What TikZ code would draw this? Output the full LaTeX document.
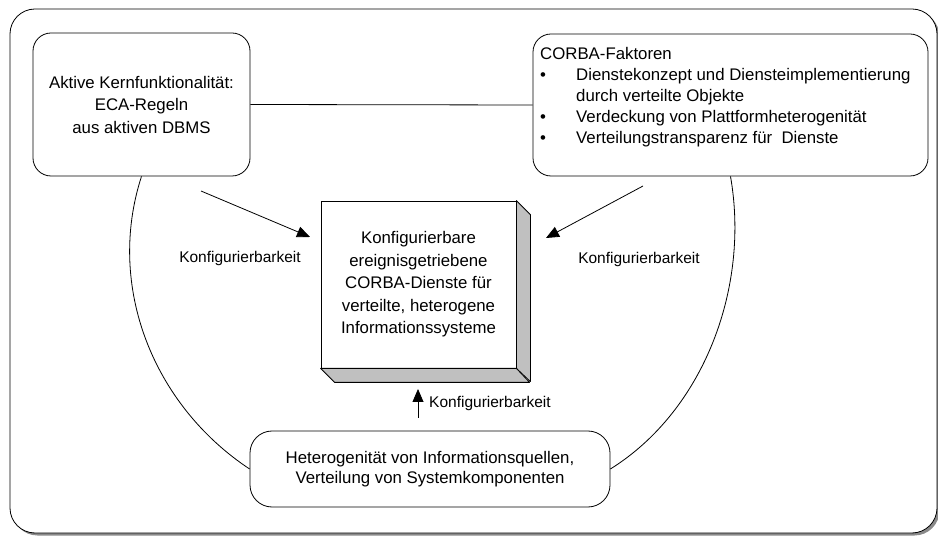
\documentclass[tikz,border=0pt]{standalone}
\usepackage{fontspec}
\setmainfont{Liberation Sans}
\usetikzlibrary{arrows.meta}
\newcommand{\mainfs}{\fontsize{16.8}{22.5}\selectfont}
\newcommand{\rfs}{\fontsize{16.8}{21}\selectfont}
\newcommand{\bfs}{\fontsize{16.8}{20.5}\selectfont}
\newcommand{\lblfs}{\fontsize{15.5}{18}\selectfont}
\definecolor{faceg}{HTML}{C0C0C0}
\definecolor{shadowg}{HTML}{8A8A8A}
\begin{document}
\begin{tikzpicture}[x=1pt,y=1pt,
  box/.style={draw, line width=0.8pt, rounded corners=18pt, fill=white, align=center, font=\mainfs, inner sep=0pt},
  lbl/.style={font=\lblfs, inner sep=0pt},
  conn/.style={line width=0.8pt},
  arr/.style={line width=0.8pt, -{Triangle[length=13pt,width=11pt]}},
  face/.style={draw, line width=0.8pt, fill=faceg, line join=round}
]
\useasboundingbox (0,0) rectangle (938,-537);
% outer frame with shadow
\fill[shadowg, rounded corners=25pt] (12.5,-11.5) rectangle (939.5,-535.5);
\draw[fill=white, line width=0.8pt, rounded corners=25pt] (10,-9) rectangle (937,-533);

% boxes
\node[box, minimum width=217, minimum height=143] (lbox) at (141.5,-104.5)
  {Aktive Kernfunktionalität:\\ECA-Regeln\\aus aktiven DBMS};
\node[box, minimum width=395, minimum height=142] (rbox) at (730.5,-105) {};
\node[font=\rfs, align=left, anchor=north west, inner sep=0pt] (rtext) at (540,-47.5)
  {CORBA-Faktoren\\
   \makebox[36pt][l]{•}Dienstekonzept und Diensteimplementierung\\
   \hspace*{36pt}durch verteilte Objekte\\
   \makebox[36pt][l]{•}Verdeckung von Plattformheterogenität\\
   \makebox[36pt][l]{•}Verteilungstransparenz für\ \ Dienste};
\node[box, font=\bfs, rounded corners=22pt, minimum width=360, minimum height=76] (bbox) at (430,-469)
  {Heterogenität von Informationsquellen,\\Verteilung von Systemkomponenten};

% central 3D box
\node[draw, line width=0.8pt, fill=white, minimum width=195, minimum height=167, inner sep=0pt,
  align=center, font=\mainfs] (cbox) at (418.5,-284.5)
  {Konfigurierbare\\ereignisgetriebene\\CORBA-Dienste für\\verteilte, heterogene\\Informationssysteme};
\draw[face] (cbox.north east) -- ++(14,-14) -- ++(0,-167) -- (cbox.south east) -- cycle;
\draw[face] (cbox.south west) -- ++(14,-14) -- ++(195,0) -- (cbox.south east) -- cycle;

% connectors
\draw[conn] (lbox.east) -- (rbox.west);
\draw[conn] (lbox.south) to[out=252,in=146.5,looseness=0.95] (bbox.west);
\draw[conn] (rbox.south) to[out=-80,in=32,looseness=0.9] (bbox.east);

% arrows
\coordinate (a1s) at (201,-191);
\coordinate (a1e) at (310,-237);
\coordinate (a2s) at (643,-186);
\coordinate (a2e) at (546,-238);
\coordinate (a3s) at (418,-418);
\coordinate (a3e) at (418,-389);
\draw[arr] (a1s) -- (a1e);
\draw[arr] (a2s) -- (a2e);
\draw[arr] (a3s) -- (a3e);

% labels
\node[lbl] (k1) at (240,-258) {Konfigurierbarkeit};
\node[lbl] (k2) at (639,-259) {Konfigurierbarkeit};
\node[lbl, anchor=west] (k3) at (429,-403) {Konfigurierbarkeit};
\end{tikzpicture}
\end{document}
